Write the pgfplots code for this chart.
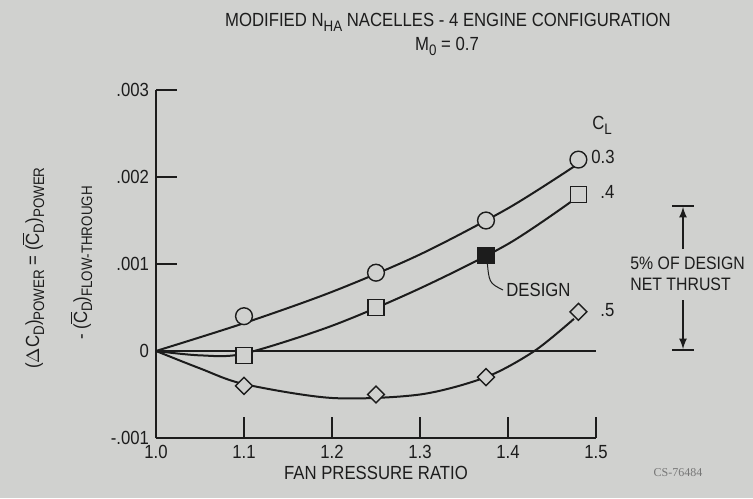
\documentclass[border=0pt]{standalone}
\usepackage{fontspec}
\setmainfont{Liberation Sans}[FakeStretch=0.88]
\newfontfamily\serifcs{Liberation Serif}
\usepackage{pgfplots}
\pgfplotsset{compat=1.18}
\definecolor{bg}{RGB}{208,209,207}
\definecolor{ink}{RGB}{28,28,28}
\newcommand{\lab}{\fontsize{9.5}{11}\selectfont}
\newcommand{\sub}[1]{\raisebox{-0.5ex}{\fontsize{7.6}{8}\selectfont #1}}
\newcommand{\Cbar}{\(\overline{\mbox{C}}\)}

\begin{document}
\begin{tikzpicture}
% page background, 753x498 px at 0.5pt per px
\fill[bg] (-78pt,-30pt) rectangle (298.5pt,219pt);
\begin{axis}[
  scale only axis, width=220pt, height=174pt,
  xmin=1, xmax=1.5, ymin=-0.001, ymax=0.003,
  axis x line*=bottom, axis y line*=left,
  axis line style={ink, line width=0.9pt},
  tick align=inside, major tick length=10.5pt,
  tick style={ink, line width=0.9pt},
  xtick={1,1.1,1.2,1.3,1.4,1.5}, xticklabels={1.0,1.1,1.2,1.3,1.4,1.5},
  ytick={-0.001,0,0.001,0.002,0.003}, yticklabels={-.001,0,.001,.002,.003},
  scaled y ticks=false,
  /pgf/number format/assume math mode=true,
  ticklabel style={font=\lab, text=ink},
  xlabel={FAN PRESSURE RATIO}, xlabel style={font=\lab, text=ink, yshift=3pt},
  clip=false,
]
% zero line
\addplot[ink, line width=0.6pt] coordinates {(1.0,0) (1.5,0)};

% faired curves
\addplot[ink, line width=1pt, smooth] coordinates {
  (1.0,0) (1.1,0.00032) (1.2,0.00068) (1.3,0.00111) (1.4,0.00164) (1.475,0.00212)};
\addplot[ink, line width=1pt, smooth] coordinates {
  (1.0,0) (1.05,-0.00005) (1.1,-0.00003) (1.2,0.00029) (1.3,0.00072) (1.4,0.00123) (1.475,0.00174)};
\addplot[ink, line width=1pt, smooth] coordinates {
  (1.0,0) (1.05,-0.0002) (1.1,-0.00038) (1.2,-0.00054) (1.3,-0.0005) (1.375,-0.0003) (1.43,0) (1.475,0.00037)};

% C_L = 0.3
\addplot[only marks, mark=*, mark size=4.2pt,
  mark options={draw=ink, fill=bg, line width=0.7pt}] coordinates {
  (1.1,0.0004) (1.25,0.0009) (1.375,0.0015) (1.48,0.0022)};
% C_L = 0.4
\addplot[only marks, mark=square*, mark size=4pt,
  mark options={draw=ink, fill=bg, line width=0.7pt}] coordinates {
  (1.1,-0.00005) (1.25,0.0005) (1.48,0.0018)};
\addplot[only marks, mark=square*, mark size=4pt,
  mark options={draw=ink, fill=ink, line width=0.7pt}] coordinates {
  (1.375,0.0011)};
% C_L = 0.5
\addplot[only marks, mark=square*, mark size=3pt,
  mark options={draw=ink, fill=bg, line width=0.7pt, rotate=45}] coordinates {
  (1.1,-0.0004) (1.25,-0.0005) (1.375,-0.0003) (1.48,0.00045)};
\end{axis}

\begin{scope}[xshift=-78pt, yshift=219pt, x=0.5pt, y=-0.5pt]
  % title
  \node[font=\lab, text=ink] at (448,22)
    {MODIFIED N\sub{HA} NACELLES - 4 ENGINE CONFIGURATION};
  \node[font=\lab, text=ink] at (447,46) {M\sub{0} = 0.7};
  % y label
  \node[font=\lab, text=ink, rotate=90] at (33,268)
    {(\(\Delta\)C\sub{D})\sub{POWER} = (\Cbar\sub{D})\sub{POWER}};
  \node[font=\lab, text=ink, rotate=90] at (81,263)
    {- (\Cbar\sub{D})\sub{FLOW-THROUGH}};
  % curve labels
  \node[font=\lab, text=ink, anchor=west, inner sep=0pt] at (592,125) {C\sub{L}};
  \node[font=\lab, text=ink, anchor=west, inner sep=0pt] at (591,157) {0.3};
  \node[font=\lab, text=ink, anchor=west, inner sep=0pt] at (600,192) {.4};
  \node[font=\lab, text=ink, anchor=west, inner sep=0pt] at (600,310) {.5};
  % design point
  \draw[ink, line width=0.5pt] (487,259) .. controls (489,283) .. (503,290);
  \node[font=\lab, text=ink, anchor=west, inner sep=0pt] at (506,290) {DESIGN};
  % 5% of design net thrust
  \draw[ink, line width=0.8pt] (672,206) -- (694,206);
  \draw[ink, line width=0.8pt] (672,350) -- (694,350);
  \draw[ink, line width=0.8pt, -latex] (683,249) -- (683,207);
  \draw[ink, line width=0.8pt, -latex] (683,300) -- (683,349);
  \node[font=\fontsize{9}{10.5}\selectfont, text=ink, anchor=west, align=left, inner sep=0pt] at (630,274)
    {5\% OF DESIGN\\NET THRUST};
  % photo number
  \node[font=\serifcs\fontsize{6}{7}\selectfont, text=ink!60] at (678,473) {CS-76484};
\end{scope}
\end{tikzpicture}
\end{document}
